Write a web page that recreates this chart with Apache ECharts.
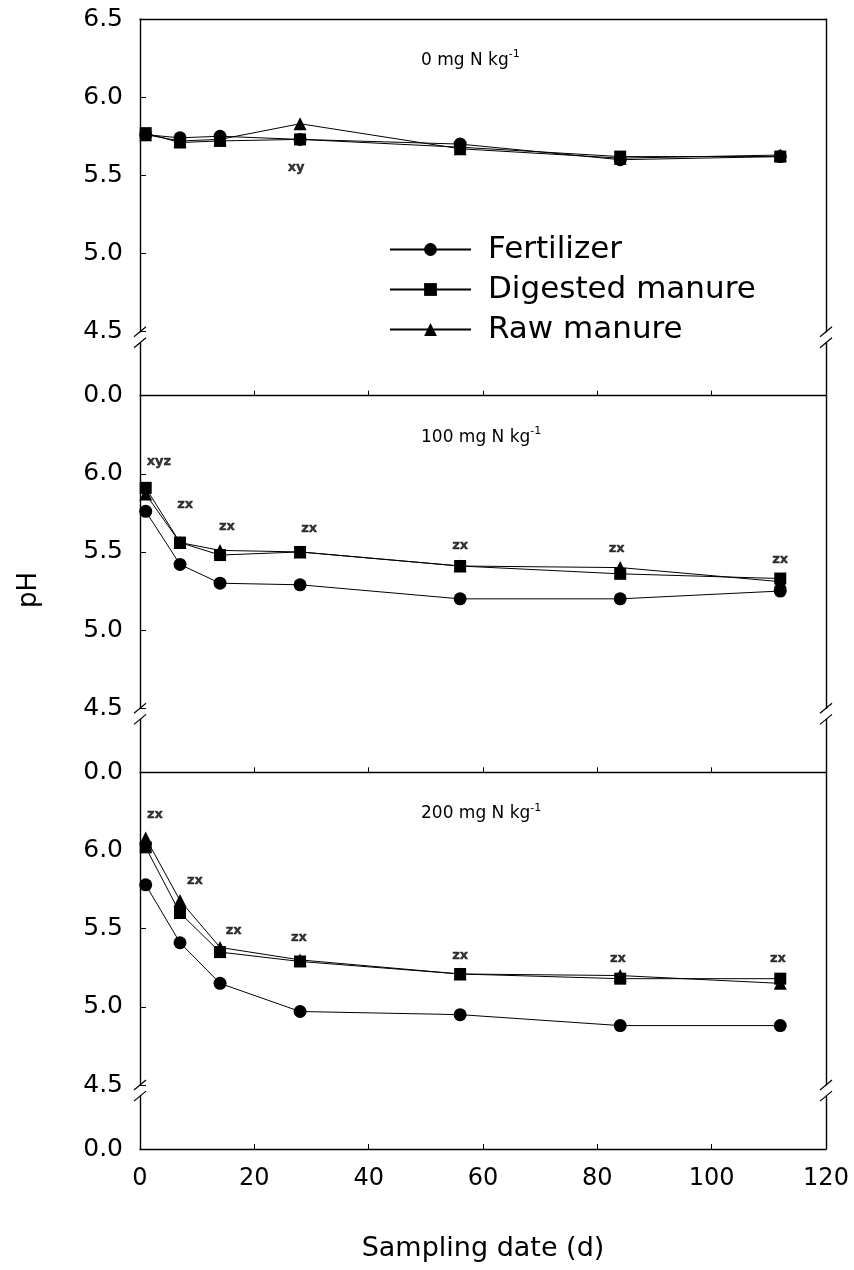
<!DOCTYPE html>
<html>
<head>
<meta charset="utf-8">
<script src="https://cdn.jsdelivr.net/npm/echarts@6/dist/echarts.min.js"></script>
<style>
html, body { margin: 0; padding: 0; background: #fff; }
#chart { width: 854px; height: 1270px; }
</style>
</head>
<body>
<div id="chart"></div>
<script>
// sampling days
var days = [1, 7, 14, 28, 56, 84, 112];
var seriesNames = ['Fertilizer', 'Digested manure', 'Raw manure'];
var panelTitles = ['0', '100', '200'];

// 0 mg N kg-1
var fert0 = [5.76, 5.74, 5.75, 5.73, 5.70, 5.60, 5.62];
var dig0 = [5.77, 5.71, 5.72, 5.73, 5.68, 5.62, 5.62];
var raw0 = [5.76, 5.72, 5.73, 5.83, 5.67, 5.61, 5.63];
// 100 mg N kg-1
var fert1 = [5.76, 5.42, 5.30, 5.29, 5.20, 5.20, 5.25];
var dig1 = [5.91, 5.56, 5.48, 5.50, 5.41, 5.36, 5.33];
var raw1 = [5.87, 5.56, 5.51, 5.50, 5.41, 5.40, 5.31];
// 200 mg N kg-1
var fert2 = [5.78, 5.41, 5.15, 4.97, 4.95, 4.88, 4.88];
var dig2 = [6.02, 5.60, 5.35, 5.29, 5.21, 5.18, 5.18];
var raw2 = [6.08, 5.68, 5.38, 5.30, 5.21, 5.20, 5.15];

// significance letters: [day, pH, text]
var ann0 = [[27.3, 5.55, 'xy']];
var ann1 = [[3.3, 6.08, 'xyz'], [7.9, 5.80, 'zx'], [15.2, 5.66, 'zx'], [29.6, 5.65, 'zx'],
            [56, 5.54, 'zx'], [83.4, 5.52, 'zx'], [112, 5.45, 'zx']];
var ann2 = [[2.6, 6.23, 'zx'], [9.6, 5.81, 'zx'], [16.4, 5.49, 'zx'], [27.8, 5.44, 'zx'],
            [56, 5.33, 'zx'], [83.6, 5.31, 'zx'], [111.6, 5.31, 'zx']];

var panelData = [[fert0, dig0, raw0], [fert1, dig1, raw1], [fert2, dig2, raw2]];
var panelAnn = [ann0, ann1, ann2];
var symbols = ['circle', 'rect', 'triangle'];

// layout
var plotLeft = 140, plotRight = 826;
var panelTop = [19, 395.6, 772.3];
var upperH = 312.7, gapH = 11.1, lowerH = 52.9;
var FONT = 'DejaVu Sans';

function pairs(ys) {
    return days.map(function (d, i) { return [d, ys[i]]; });
}
function axLine() {
    return { show: true, onZero: false, lineStyle: { color: '#000', width: 1.4 } };
}

var grids = [], xAxes = [], yAxes = [], series = [], titles = [], graphics = [];

for (var p = 0; p < 3; p++) {
    var pTop = panelTop[p];
    var lowerTop = pTop + upperH + gapH;
    // upper part 4.5 - 6.5
    grids.push({ left: plotLeft, right: 854 - plotRight, top: pTop, height: upperH });
    // lower part, only 0.0
    grids.push({ left: plotLeft, right: 854 - plotRight, top: lowerTop, height: lowerH });

    xAxes.push({
        gridIndex: 2 * p, type: 'value', min: 0, max: 120, interval: 20,
        position: 'top',
        axisLine: { show: p === 0, onZero: false, lineStyle: { color: '#000', width: 1.4 } },
        axisTick: { show: false }, axisLabel: { show: false }, splitLine: { show: false }
    });
    var isLast = p === 2;
    var xa = {
        gridIndex: 2 * p + 1, type: 'value', min: 0, max: 120, interval: 20,
        position: 'bottom',
        axisLine: axLine(),
        axisTick: { show: true, inside: true, length: 5, lineStyle: { color: '#000', width: 1 } },
        axisLabel: { show: isLast, fontSize: 24, fontFamily: FONT, color: '#000', margin: 18 },
        splitLine: { show: false }
    };
    if (isLast) {
        xa.name = 'Sampling date (d)';
        xa.nameLocation = 'middle';
        xa.nameGap = 86;
        xa.nameTextStyle = { fontSize: 27, fontFamily: FONT, color: '#000' };
    }
    xAxes.push(xa);

    yAxes.push({
        gridIndex: 2 * p, type: 'value', min: 4.5, max: 6.5, interval: 0.5, position: 'left',
        axisLine: axLine(),
        axisTick: { show: true, inside: true, length: 6, lineStyle: { color: '#000', width: 1 } },
        axisLabel: {
            fontSize: 25, fontFamily: FONT, color: '#000', margin: 17,
            formatter: p > 0 ? function (v) { return v >= 6.5 ? '' : v.toFixed(1); }
                             : function (v) { return v.toFixed(1); }
        },
        splitLine: { show: false }
    });
    yAxes.push({
        gridIndex: 2 * p, type: 'value', min: 4.5, max: 6.5, interval: 0.5, position: 'right',
        axisLine: axLine(),
        axisTick: { show: false }, axisLabel: { show: false }, splitLine: { show: false }
    });
    yAxes.push({
        gridIndex: 2 * p + 1, type: 'value', min: 0, max: 1, interval: 1, position: 'left',
        axisLine: axLine(),
        axisTick: { show: false },
        axisLabel: {
            fontSize: 25, fontFamily: FONT, color: '#000', margin: 17,
            formatter: function (v) { return v === 0 ? '0.0' : ''; }
        },
        splitLine: { show: false }
    });
    yAxes.push({
        gridIndex: 2 * p + 1, type: 'value', min: 0, max: 1, interval: 1, position: 'right',
        axisLine: axLine(),
        axisTick: { show: false }, axisLabel: { show: false }, splitLine: { show: false }
    });

    for (var s = 0; s < 3; s++) {
        series.push({
            name: seriesNames[s], type: 'line', xAxisIndex: 2 * p, yAxisIndex: 4 * p,
            data: pairs(panelData[p][s]),
            symbol: symbols[s], symbolSize: s === 1 ? 12 : 13,
            lineStyle: { color: '#000', width: 1 },
            itemStyle: { color: '#000' },
            z: 3 + s
        });
    }
    // letters above the points
    series.push({
        type: 'scatter', xAxisIndex: 2 * p, yAxisIndex: 4 * p,
        data: panelAnn[p].map(function (a) { return { name: a[2], value: [a[0], a[1]] }; }),
        symbolSize: 1,
        itemStyle: { color: 'rgba(0,0,0,0)' },
        label: {
            show: true, position: 'inside', color: '#000',
            fontSize: 13, fontWeight: 'bold', fontFamily: FONT,
            textBorderColor: '#000', textBorderWidth: 0.4,
            formatter: '{b}'
        },
        silent: true, z: 10
    });

    titles.push({
        left: 416, top: pTop + 25,
        text: '{n|' + panelTitles[p] + ' mg N kg}{s|-1}',
        textStyle: {
            rich: {
                n: { fontSize: 17, fontFamily: FONT, fontWeight: 'normal', color: '#000' },
                s: { fontSize: 11, fontFamily: FONT, fontWeight: 'normal', color: '#000', padding: [0, 0, 12, 0] }
            }
        }
    });

    // axis break marks
    var yA = pTop + upperH, yB = lowerTop;
    [plotLeft, plotRight].forEach(function (x) {
        [yA, yB].forEach(function (y) {
            graphics.push({
                type: 'line', z: 100,
                shape: { x1: x - 6, y1: y + 5, x2: x + 6, y2: y - 5 },
                style: { stroke: '#000', lineWidth: 1.2 }
            });
        });
    });
}

graphics.push({
    type: 'text', x: 29, y: 590, rotation: Math.PI / 2,
    style: { text: 'pH', fontSize: 26, fontFamily: FONT, fill: '#000', align: 'center', verticalAlign: 'middle' }
});

var chart = echarts.init(document.getElementById('chart'));
chart.setOption({
    animation: false,
    backgroundColor: '#fff',
    title: titles,
    legend: {
        data: seriesNames,
        orient: 'vertical',
        left: 384, top: 229,
        itemWidth: 81, itemHeight: 16, itemGap: 9,
        formatter: '{t|{name}}',
        textStyle: {
            color: '#000',
            rich: { t: { fontSize: 31, fontFamily: FONT, color: '#000', padding: [0, 0, 0, 12] } }
        },
        selectedMode: false
    },
    grid: grids,
    xAxis: xAxes,
    yAxis: yAxes,
    series: series,
    graphic: graphics
});
</script>
</body>
</html>
